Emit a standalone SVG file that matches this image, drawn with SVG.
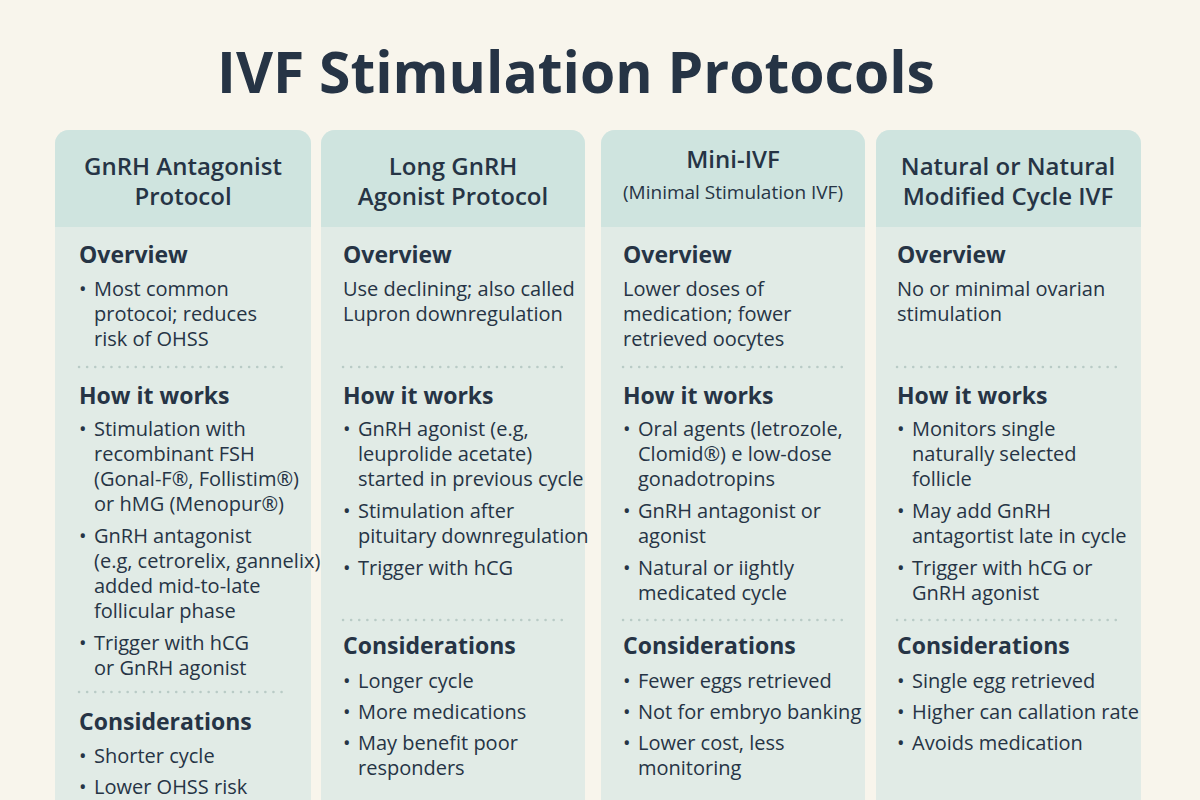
<svg xmlns="http://www.w3.org/2000/svg" width="1200" height="800" viewBox="0 0 1200 800">
<style>
text{font-family:"Open Sans","Noto Sans",sans-serif;fill:#263445}
.t{font-size:57px;font-weight:700;text-anchor:middle}
.h{font-size:24px;font-weight:600;text-anchor:middle}
.s{font-size:19px;text-anchor:middle}
.k{font-size:23px;font-weight:700}
.b{font-size:20px}
.hd{fill:#cfe4df}
.bd{fill:#e1ebe6}
.dt{stroke:#b9cbc6;stroke-width:2.5;stroke-dasharray:0.1 8;stroke-linecap:round}
</style>
<rect width="1200" height="800" fill="#f8f5ec"/>
<text class="t" x="576" y="93">IVF Stimulation Protocols</text>
<g id="col1">
<rect class="bd" x="55" y="130" width="256" height="700" rx="14"/>
<path class="hd" d="M55 227V144a14 14 0 0 1 14-14h228a14 14 0 0 1 14 14v83z"/>
<text class="h" x="183" y="175">GnRH Antagonist</text><text class="h" x="183" y="205">Protocol</text>
<text class="k" x="79" y="263">Overview</text>
<g class="b"><text x="79" y="296">•</text><text x="94" y="296">Most common</text><text x="94" y="321">protocoi; reduces</text><text x="94" y="346">risk of OHSS</text></g>
<line class="dt" x1="79" y1="367" x2="286" y2="367"/>
<text class="k" x="79" y="404">How it works</text>
<g class="b"><text x="79" y="436">•</text><text x="94" y="436">Stimulation with</text><text x="94" y="461">recombinant FSH</text><text x="94" y="486">(Gonal-F®, Follistim®)</text><text x="94" y="511">or hMG (Menopur®)</text>
<text x="79" y="543">•</text><text x="94" y="543">GnRH antagonist</text><text x="94" y="568">(e.g, cetrorelix, gannelix)</text><text x="94" y="593">added mid-to-late</text><text x="94" y="618">follicular phase</text>
<text x="79" y="650">•</text><text x="94" y="650">Trigger with hCG</text><text x="94" y="675">or GnRH agonist</text></g>
<line class="dt" x1="79" y1="692" x2="286" y2="692"/>
<text class="k" x="79" y="730">Considerations</text>
<g class="b"><text x="79" y="763">•</text><text x="94" y="763">Shorter cycle</text><text x="79" y="794">•</text><text x="94" y="794">Lower OHSS risk</text></g>
</g>
<g id="col2">
<rect class="bd" x="321" y="130" width="264" height="700" rx="14"/>
<path class="hd" d="M321 227V144a14 14 0 0 1 14-14h236a14 14 0 0 1 14 14v83z"/>
<text class="h" x="453" y="175">Long GnRH</text><text class="h" x="453" y="205">Agonist Protocol</text>
<text class="k" x="343" y="263">Overview</text>
<g class="b"><text x="343" y="296">Use declining; also called</text><text x="343" y="321">Lupron downregulation</text></g>
<line class="dt" x1="343" y1="367" x2="562" y2="367"/>
<text class="k" x="343" y="404">How it works</text>
<g class="b"><text x="343" y="436">•</text><text x="358" y="436">GnRH agonist (e.g,</text><text x="358" y="461">leuprolide acetate)</text><text x="358" y="486">started in previous cycle</text>
<text x="343" y="518">•</text><text x="358" y="518">Stimulation after</text><text x="358" y="543">pituitary downregulation</text>
<text x="343" y="575">•</text><text x="358" y="575">Trigger with hCG</text></g>
<line class="dt" x1="343" y1="620" x2="562" y2="620"/>
<text class="k" x="343" y="654">Considerations</text>
<g class="b"><text x="343" y="688">•</text><text x="358" y="688">Longer cycle</text><text x="343" y="719">•</text><text x="358" y="719">More medications</text><text x="343" y="750">•</text><text x="358" y="750">May benefit poor</text><text x="358" y="775">responders</text></g>
</g>
<g id="col3">
<rect class="bd" x="601" y="130" width="264" height="700" rx="14"/>
<path class="hd" d="M601 227V144a14 14 0 0 1 14-14h236a14 14 0 0 1 14 14v83z"/>
<text class="h" x="733" y="168">Mini-IVF</text><text class="s" x="733" y="199">(Minimal Stimulation IVF)</text>
<text class="k" x="623" y="263">Overview</text>
<g class="b"><text x="623" y="296">Lower doses of</text><text x="623" y="321">medication; fower</text><text x="623" y="346">retrieved oocytes</text></g>
<line class="dt" x1="623" y1="367" x2="844" y2="367"/>
<text class="k" x="623" y="404">How it works</text>
<g class="b"><text x="623" y="436">•</text><text x="638" y="436">Oral agents (letrozole,</text><text x="638" y="461">Clomid®) e low-dose</text><text x="638" y="486">gonadotropins</text>
<text x="623" y="518">•</text><text x="638" y="518">GnRH antagonist or</text><text x="638" y="543">agonist</text>
<text x="623" y="575">•</text><text x="638" y="575">Natural or iightly</text><text x="638" y="600">medicated cycle</text></g>
<line class="dt" x1="623" y1="620" x2="844" y2="620"/>
<text class="k" x="623" y="654">Considerations</text>
<g class="b"><text x="623" y="688">•</text><text x="638" y="688">Fewer eggs retrieved</text><text x="623" y="719">•</text><text x="638" y="719">Not for embryo banking</text><text x="623" y="750">•</text><text x="638" y="750">Lower cost, less</text><text x="638" y="775">monitoring</text></g>
</g>
<g id="col4">
<rect class="bd" x="876" y="130" width="265" height="700" rx="14"/>
<path class="hd" d="M876 227V144a14 14 0 0 1 14-14h237a14 14 0 0 1 14 14v83z"/>
<text class="h" x="1008" y="175">Natural or Natural</text><text class="h" x="1008" y="205">Modified Cycle IVF</text>
<text class="k" x="897" y="263">Overview</text>
<g class="b"><text x="897" y="296">No or minimal ovarian</text><text x="897" y="321">stimulation</text></g>
<line class="dt" x1="897" y1="367" x2="1118" y2="367"/>
<text class="k" x="897" y="404">How it works</text>
<g class="b"><text x="897" y="436">•</text><text x="912" y="436">Monitors single</text><text x="912" y="461">naturally selected</text><text x="912" y="486">follicle</text>
<text x="897" y="518">•</text><text x="912" y="518">May add GnRH</text><text x="912" y="543">antagortist late in cycle</text>
<text x="897" y="575">•</text><text x="912" y="575">Trigger with hCG or</text><text x="912" y="600">GnRH agonist</text></g>
<line class="dt" x1="897" y1="620" x2="1118" y2="620"/>
<text class="k" x="897" y="654">Considerations</text>
<g class="b"><text x="897" y="688">•</text><text x="912" y="688">Single egg retrieved</text><text x="897" y="719">•</text><text x="912" y="719">Higher can callation rate</text><text x="897" y="750">•</text><text x="912" y="750">Avoids medication</text></g>
</g>
</svg>
